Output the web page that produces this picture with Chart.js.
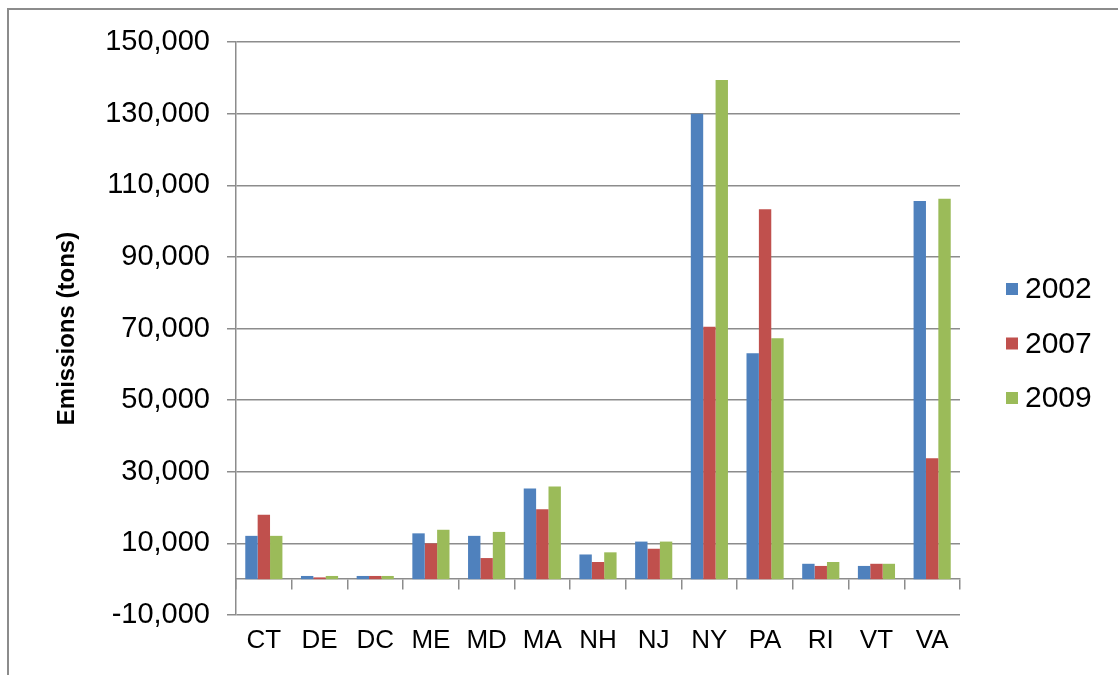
<!DOCTYPE html>
<html>
<head>
<meta charset="utf-8">
<script src="https://cdn.jsdelivr.net/npm/chart.js@4/dist/chart.umd.min.js"></script>
<style>
  html, body { margin: 0; padding: 0; background: #fff; }
  #wrap { position: relative; width: 1118px; height: 675px; overflow: hidden; }
  #frame { position: absolute; left: 7px; top: 8px; right: -4px; bottom: -4px;
           border-left: 2px solid #8c8c8c; border-top: 2px solid #8c8c8c; pointer-events: none; }
  canvas { position: absolute; left: 0; top: 0; }
</style>
</head>
<body>
<div id="wrap">
  <canvas id="chart" width="1118" height="675"></canvas>
  <div id="frame"></div>
</div>
<script>
// Emissions by state (tons)
const categories = ['CT', 'DE', 'DC', 'ME', 'MD', 'MA', 'NH', 'NJ', 'NY', 'PA', 'RI', 'VT', 'VA'];
const seriesNames = ['2002', '2007', '2009'];
const values2002 = [12100, 900, 900, 12800, 12100, 25300, 6900, 10500, 130000, 63100, 4300, 3700, 105600];
const values2007 = [18000, 500, 900, 10000, 5900, 19500, 4800, 8500, 70500, 103300, 3700, 4300, 33800];
const values2009 = [12100, 900, 900, 13800, 13200, 25900, 7500, 10500, 139400, 67300, 4800, 4300, 106200];
const yTicks = [-10000, 10000, 30000, 50000, 70000, 90000, 110000, 130000, 150000];

const colors = ['#4F81BD', '#C0504D', '#9BBB59'];
const gridColor = '#8c8c8c';
const FONT = "'Liberation Sans', Arial, sans-serif";

// Legend drawn on the right of the plot, one row per series
const sideLegend = {
  id: 'sideLegend',
  afterDraw(chart) {
    const ctx = chart.ctx;
    ctx.save();
    ctx.font = '30px ' + FONT;
    ctx.textBaseline = 'middle';
    ctx.textAlign = 'left';
    chart.data.datasets.forEach((ds, i) => {
      const cy = 289 + i * 54.5;
      ctx.fillStyle = ds.backgroundColor;
      ctx.fillRect(1006, cy - 6, 12, 12);
      ctx.fillStyle = '#000';
      ctx.fillText(ds.label, 1025, cy + 1);
    });
    ctx.restore();
  }
};

new Chart(document.getElementById('chart'), {
  type: 'bar',
  data: {
    labels: categories,
    datasets: [
      { label: seriesNames[0], data: values2002, backgroundColor: colors[0] },
      { label: seriesNames[1], data: values2007, backgroundColor: colors[1] },
      { label: seriesNames[2], data: values2009, backgroundColor: colors[2] }
    ]
  },
  options: {
    responsive: false,
    animation: false,
    devicePixelRatio: 1,
    layout: { padding: { top: 42, right: 158, left: 0, bottom: 0 } },
    datasets: { bar: { categoryPercentage: 0.667, barPercentage: 1.0 } },
    plugins: {
      legend: { display: false },
      tooltip: { enabled: false }
    },
    scales: {
      x: {
        type: 'category',
        position: 'bottom',
        offset: true,
        grid: { display: false },
        border: { display: false },
        ticks: { color: '#000', font: { family: FONT, size: 26 }, padding: 2, maxRotation: 0, autoSkip: false },
        afterFit(scale) { scale.height = 60; }
      },
      xZero: {
        type: 'category',
        position: { y: 0 },
        offset: true,
        grid: { offset: true, drawOnChartArea: false, drawTicks: true, tickLength: 10, color: gridColor, lineWidth: 1.5 },
        border: { display: true, color: gridColor, width: 1.5 },
        ticks: { display: false }
      },
      y: {
        type: 'linear',
        min: -10000,
        max: 150000,
        afterBuildTicks(scale) { scale.ticks = yTicks.map(v => ({ value: v })); },
        grid: { color: gridColor, lineWidth: 1.5, drawTicks: true, tickLength: 9 },
        border: { display: true, color: gridColor, width: 1.5 },
        ticks: {
          color: '#000',
          padding: 17,
          font: { family: FONT, size: 29 },
          callback: v => v.toLocaleString('en-US')
        },
        title: {
          display: true,
          text: 'Emissions (tons)',
          color: '#000',
          font: { family: FONT, size: 24, weight: 'bold' },
          padding: { top: 53, bottom: 0 }
        },
        afterFit(scale) { scale.width = 236; }
      }
    }
  },
  plugins: [sideLegend]
});
</script>
</body>
</html>
